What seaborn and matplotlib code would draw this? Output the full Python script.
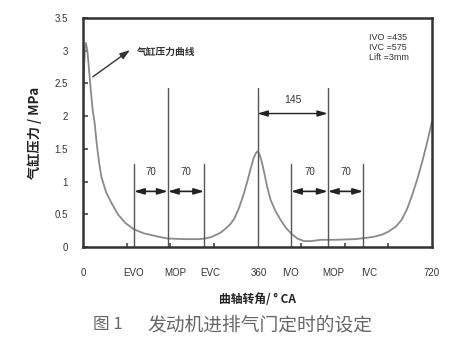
import numpy as np
import pandas as pd
import matplotlib
matplotlib.use("Agg")
import matplotlib.pyplot as plt
import seaborn as sns

# ---- data ----
crank_angle = [0, 2, 4, 6, 9, 12, 16, 20, 24, 28, 33, 38, 48, 59, 72, 87, 105, 125,
               142, 160, 175, 210, 240, 252, 264, 273, 284, 294, 304, 312, 322, 332,
               340, 346, 352, 357, 360, 364, 369, 374, 380, 387, 397, 408, 418, 429,
               442, 456, 470, 491, 520, 560, 585, 602, 617, 629, 645, 657, 668, 678,
               689, 699, 710, 720]
pressure = [2.1, 2.7, 3.05, 3.12, 3.0, 2.75, 2.4, 2.09, 1.9, 1.6, 1.3, 1.07, 0.83, 0.67,
            0.5, 0.37, 0.27, 0.21, 0.18, 0.15, 0.13, 0.12, 0.12, 0.13, 0.15, 0.18, 0.22,
            0.28, 0.35, 0.43, 0.6, 0.82, 1.03, 1.2, 1.36, 1.44, 1.46, 1.42, 1.3, 1.13,
            0.92, 0.72, 0.55, 0.41, 0.3, 0.21, 0.13, 0.09, 0.09, 0.11, 0.11, 0.12, 0.14,
            0.16, 0.19, 0.23, 0.31, 0.41, 0.57, 0.77, 1.02, 1.28, 1.6, 1.92]

short_lines = [105, 250, 429, 578]        # EVO, EVC, IVO, IVC
short_top = 1.27
tall_lines = [175, 360, 505]              # exhaust MOP, TDC, intake MOP
tall_top = 2.43

spans_70 = [(105, 175), (175, 250), (429, 505), (505, 578)]
span_labels = ["70", "70", "70", "70"]
span_145 = (360, 505)

tick_marks = [90, 180, 270, 450, 540, 630]
label_pos = [0, 105, 190, 262, 362, 429, 516, 590, 720]
label_txt = ["0", "EVO", "MOP", "EVC", "360", "IVO", "MOP", "IVC", "720"]
y_ticks = [0, 0.5, 1, 1.5, 2, 2.5, 3, 3.5]
y_labels = ["0", "0.5", "1", "1.5", "2", "2.5", "3", "3.5"]

sns.set_style("ticks")
plt.rcParams['font.family'] = ['Liberation Sans', 'Noto Sans CJK SC', 'DejaVu Sans']
cjk = ['Noto Sans CJK SC', 'DejaVu Sans']

fig = plt.figure(figsize=(4.56, 3.41), dpi=100)
ax = fig.add_axes([83/456, 1-247/341, (432-83)/456, (247-18)/341])

df = pd.DataFrame({"angle": crank_angle, "p": pressure})
sns.lineplot(data=df, x="angle", y="p", ax=ax, color="#8a8a8a", linewidth=1.3)

frame_c = "#333333"
for s in ax.spines.values():
    s.set_color(frame_c)
    s.set_linewidth(1.8)
    s.set_zorder(6)

lc = "#555555"
for x in short_lines:
    ax.plot([x, x], [0, short_top], color=lc, lw=1.0)
for x in tall_lines:
    ax.plot([x, x], [0, tall_top], color=lc, lw=1.0)

for (a, b), t in zip(spans_70, span_labels):
    ax.annotate("", xy=(a, 0.85), xytext=(b, 0.85),
                arrowprops=dict(arrowstyle="<|-|>,head_length=0.6,head_width=0.18",
                                color="#222222", lw=1.2, shrinkA=0, shrinkB=0))
    ax.text((a + b) / 2, 1.15, t, ha="center", va="center", fontsize=7, color="#333333")

ax.annotate("", xy=(span_145[0], 2.04), xytext=(span_145[1], 2.04),
            arrowprops=dict(arrowstyle="<|-|>,head_length=0.6,head_width=0.18",
                            color="#222222", lw=1.0, shrinkA=0, shrinkB=0))
ax.text((span_145[0] + span_145[1]) / 2, 2.25, "145", ha="center", va="center",
        fontsize=7.5, color="#333333")

ax.annotate("", xy=(97, 3.01), xytext=(20, 2.6),
            arrowprops=dict(arrowstyle="-|>,head_length=0.6,head_width=0.2",
                            color="#333333", lw=1.0, shrinkA=0, shrinkB=0))
ax.text(112, 2.98, "气缸压力曲线", family=cjk, fontsize=7, fontweight="bold",
        color="#333333", ha="left", va="center")

ax.text(590, 3.05, "IVO =435\nIVC =575\nLift =3mm", fontsize=6.5, color="#333333",
        ha="left", va="center", linespacing=1.15)

ax.set_xlim(0, 720)
ax.set_ylim(0, 3.5)
ax.set_xticks(label_pos)
ax.set_xticklabels(label_txt)
ax.set_xticks(tick_marks, minor=True)
ax.tick_params(axis="x", which="major", length=0, pad=15, labelsize=7, labelcolor="#333333")
ax.tick_params(axis="x", which="minor", direction="in", length=3, width=1.2, color="#444444")
ax.set_yticks(y_ticks)
ax.set_yticklabels(y_labels)
ax.tick_params(axis="y", direction="in", length=3.5, width=1.2, pad=11, labelsize=7,
               labelcolor="#333333", color="#444444")

ax.set_xlabel("曲轴转角/ ° CA", family=cjk, fontsize=8.5, fontweight="bold",
              color="#222222", labelpad=11)
ax.set_ylabel("气缸压力 / MPa", family=cjk, fontsize=9.5, fontweight="bold",
              color="#222222", labelpad=9)

fig.text(93/456, 1-325/341, "图 1", family=cjk, fontsize=12, color="#666666",
         ha="left", va="center")
fig.text(147/456, 1-325/341, "发动机进排气门定时的设定", family=cjk, fontsize=13.5,
         color="#666666", ha="left", va="center")

fig.savefig("out.png", dpi=100)
